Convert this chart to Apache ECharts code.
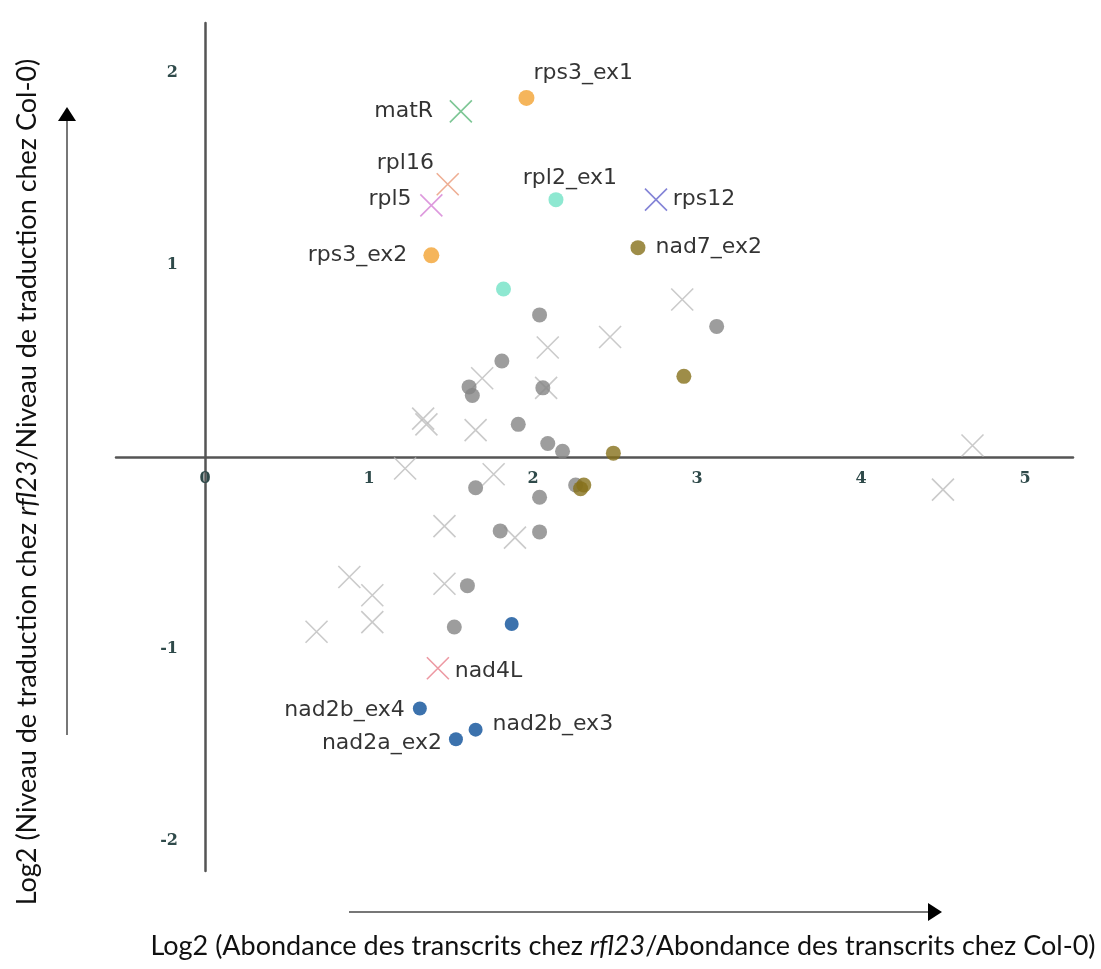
<!DOCTYPE html>
<html><head><meta charset="utf-8">
<script src="https://cdn.jsdelivr.net/npm/echarts@6/dist/echarts.min.js"></script>
<style>html,body{margin:0;padding:0;background:#fff}#c{width:1101px;height:969px}</style>
</head><body><div id="c"></div>
<script>
// ---- data ----
const xTickValues = [0, 1, 2, 3, 4, 5];
const yTickValues = [-2, -1, 1, 2];

const grayCirclePoints = [
  [2.04, 0.74], [1.81, 0.50], [1.61, 0.365], [1.63, 0.32], [2.06, 0.36],
  [1.91, 0.17], [2.09, 0.07], [2.18, 0.03], [1.65, -0.16], [2.04, -0.21],
  [1.80, -0.385], [2.04, -0.39], [1.60, -0.67], [1.52, -0.885], [3.12, 0.68],
  [2.26, -0.146]
];
const grayCrossPoints = [
  [2.09, 0.57], [1.69, 0.41], [2.08, 0.36], [1.33, 0.20], [1.35, 0.17],
  [1.65, 0.14], [1.22, -0.06], [1.76, -0.09], [1.46, -0.36], [1.89, -0.42],
  [0.88, -0.625], [1.02, -0.72], [1.46, -0.66], [1.02, -0.86], [0.68, -0.91],
  [2.91, 0.82], [2.47, 0.625], [4.68, 0.06], [4.50, -0.17]
];
const rps3Points = [[1.96, 1.87, 'rps3_ex1'], [1.38, 1.05, 'rps3_ex2']];
const rpl2Points = [[2.14, 1.34, 'rpl2_ex1'], [1.82, 0.875, '']];
const nad7Points = [[2.64, 1.09, 'nad7_ex2'], [2.92, 0.42, ''], [2.49, 0.02, ''], [2.29, -0.165, ''], [2.31, -0.146, '']];
const nad2Points = [[1.87, -0.87, ''], [1.31, -1.31, 'nad2b_ex4'], [1.65, -1.42, 'nad2b_ex3'], [1.53, -1.47, 'nad2a_ex2']];
const highlightedCrossPoints = [[1.56, 1.80, 'matR'], [1.48, 1.42, 'rpl16'], [1.38, 1.31, 'rpl5'], [2.75, 1.34, 'rps12'], [1.42, -1.10, 'nad4L']];

// ---- styles ----
const crossColors = { matR: '#5cb87a', rpl16: '#ea9a78', rpl5: '#d57fd5', rps12: '#6464cc', nad4L: '#e8808c' };
const labelPlacement = {
  rps3_ex1: { position: 'right', offset: [-6, -25] },
  rps3_ex2: { position: 'left', offset: [-11, 0] },
  rpl2_ex1: { position: 'top', offset: [14, 2] },
  nad7_ex2: { position: 'right', offset: [5, 0] },
  matR: { position: 'left', offset: [-11, 0] },
  rpl16: { position: 'left', offset: [3, -21] },
  rpl5: { position: 'left', offset: [-3, -6] },
  rps12: { position: 'right', offset: [0, 0] },
  nad4L: { position: 'right', offset: [0, 3] },
  nad2b_ex4: { position: 'left', offset: [-3, 2] },
  nad2b_ex3: { position: 'right', offset: [5, -5] },
  nad2a_ex2: { position: 'left', offset: [-2, 4] }
};
const CROSS = 'path://M0,0L24,24M24,0L0,24';
const labelFont = { fontFamily: 'DejaVu Sans', fontSize: 22, color: '#000' };

function items(points, extra) {
  return points.map(p => {
    const it = { value: [p[0], p[1]], name: p[2] || '' };
    if (p[2]) {
      it.label = Object.assign({ show: true, formatter: '{b}' }, labelFont, labelPlacement[p[2]]);
    }
    if (extra) extra(it, p);
    return it;
  });
}

const tickLabelStyle = { fontFamily: 'DejaVu Serif', fontWeight: 'bold', fontSize: 16, color: '#2f4a4a' };
const titleRich = {
  n: { fontFamily: 'Lato', fontSize: 27, fill: '#111' },
  i: { fontFamily: 'Lato', fontStyle: 'italic', fontSize: 27, fill: '#111' }
};

const chart = echarts.init(document.getElementById('c'));
chart.setOption({
  animation: false,
  backgroundColor: '#fff',
  grid: { left: 116, right: 28, top: 23, bottom: 98, containLabel: false },
  xAxis: {
    type: 'value', min: -0.543, max: 5.293,
    axisLine: { onZero: true, lineStyle: { color: '#555', width: 2.5 } },
    axisTick: { show: false }, splitLine: { show: false },
    axisLabel: Object.assign({ customValues: xTickValues, margin: -400 }, tickLabelStyle)
  },
  yAxis: {
    type: 'value', min: -2.156, max: 2.26,
    axisLine: { onZero: true, lineStyle: { color: '#555', width: 2.5 } },
    axisTick: { show: false }, splitLine: { show: false },
    axisLabel: Object.assign({ customValues: yTickValues, margin: -62 }, tickLabelStyle)
  },
  series: [
    { type: 'scatter', symbol: CROSS, symbolSize: 22, data: items(grayCrossPoints),
      itemStyle: { color: 'transparent', borderColor: '#bdbdbd', borderWidth: 1.6 } },
    { type: 'scatter', symbol: 'circle', symbolSize: 15, data: items(grayCirclePoints),
      itemStyle: { color: '#858585' } },
    { type: 'scatter', symbol: CROSS, symbolSize: 22,
      data: items(highlightedCrossPoints, (it, p) => { it.itemStyle = { borderColor: crossColors[p[2]] }; }),
      itemStyle: { color: 'transparent', borderWidth: 1.6 } },
    { type: 'scatter', symbol: 'circle', symbolSize: 15, data: items(nad7Points), itemStyle: { color: '#86701a' } },
    { type: 'scatter', symbol: 'circle', symbolSize: 15, data: items(rpl2Points), itemStyle: { color: '#72e2c6' } },
    { type: 'scatter', symbol: 'circle', symbolSize: 16, data: items(rps3Points), itemStyle: { color: '#f2a232' } },
    { type: 'scatter', symbol: 'circle', symbolSize: 14, data: items(nad2Points), itemStyle: { color: '#0b4f98' } }
  ],
  graphic: [
    { type: 'line', shape: { x1: 67, y1: 118, x2: 67, y2: 735 }, style: { stroke: '#777', lineWidth: 2 } },
    { type: 'polygon', shape: { points: [[67, 107], [58, 121], [76, 121]] }, style: { fill: '#000' } },
    { type: 'line', shape: { x1: 349, y1: 912, x2: 930, y2: 912 }, style: { stroke: '#777', lineWidth: 2 } },
    { type: 'polygon', shape: { points: [[942, 912], [928, 903], [928, 921]] }, style: { fill: '#000' } },
    { type: 'text', x: 27, y: 482, rotation: Math.PI / 2,
      style: { text: '{n|Log2 (Niveau de traduction chez }{i|rfl23}{n|/Niveau de traduction chez Col-0)}',
        align: 'center', verticalAlign: 'middle', rich: titleRich } },
    { type: 'text', x: 623, y: 946,
      style: { text: '{n|Log2 (Abondance des transcrits chez }{i|rfl23}{n|/Abondance des transcrits chez Col-0)}',
        align: 'center', verticalAlign: 'middle', rich: titleRich } }
  ]
});
</script></body></html>
